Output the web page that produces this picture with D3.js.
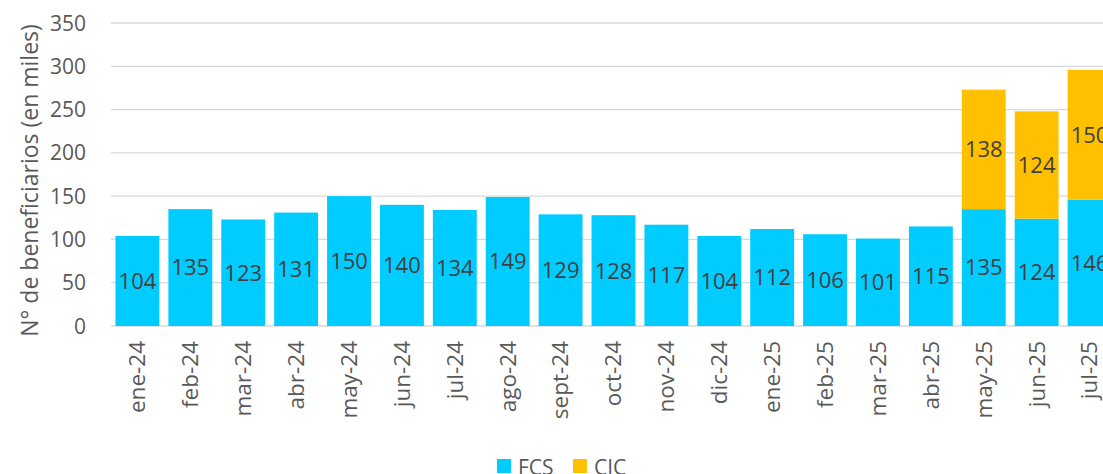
<!DOCTYPE html>
<html>
<head>
<meta charset="utf-8">
<script src="https://cdn.jsdelivr.net/npm/d3@7"></script>
<style>
  html, body { margin: 0; padding: 0; background: #fff; overflow: hidden; }
  svg { display: block; font-family: "Open Sans", "Noto Sans", sans-serif; }
</style>
</head>
<body>
<div id="chartContainer"></div>
<script>
// Beneficiarios FCS / CIC por mes (miles)
const months = ['ene-24', 'feb-24', 'mar-24', 'abr-24', 'may-24', 'jun-24', 'jul-24', 'ago-24',
  'sept-24', 'oct-24', 'nov-24', 'dic-24', 'ene-25', 'feb-25', 'mar-25', 'abr-25', 'may-25', 'jun-25', 'jul-25'];
const fcsValues = [104, 135, 123, 131, 150, 140, 134, 149, 129, 128, 117, 104, 112, 106, 101, 115, 135, 124, 146];
const cicValues = [0, 0, 0, 0, 0, 0, 0, 0, 0, 0, 0, 0, 0, 0, 0, 0, 138, 124, 150];
const yTicks = [0, 50, 100, 150, 200, 250, 300, 350];
const seriesNames = ['FCS', 'CIC'];

const colors = { FCS: '#00CCFF', CIC: '#FFC000' };
const textColor = '#595959';

const width = 1103;
const height = 474;
const plotLeft = 111;
const plotRight = 1116;
const plotTop = 23;
const plotBottom = 326;

const svg = d3.select('#chartContainer')
  .append('svg')
  .attr('width', width)
  .attr('height', height);

const x = d3.scaleBand()
  .domain(months)
  .range([plotLeft, plotRight])
  .paddingInner(0.17)
  .paddingOuter(0.085);

const y = d3.scaleLinear()
  .domain([0, 350])
  .range([plotBottom, plotTop]);

// gridlines
svg.append('g')
  .selectAll('line')
  .data(yTicks)
  .enter().append('line')
  .attr('x1', plotLeft)
  .attr('x2', plotRight)
  .attr('y1', d => y(d))
  .attr('y2', d => y(d))
  .attr('stroke', '#d9d9d9')
  .attr('stroke-width', 1.3);

// y tick labels
svg.append('g')
  .selectAll('text')
  .data(yTicks)
  .enter().append('text')
  .attr('x', 86)
  .attr('y', d => y(d))
  .attr('dy', '0.36em')
  .attr('text-anchor', 'end')
  .attr('fill', textColor)
  .style('font-size', '21px')
  .text(d => d);

// y axis title
svg.append('text')
  .attr('transform', `translate(30,${(plotTop + plotBottom) / 2 + 6}) rotate(-90)`)
  .attr('text-anchor', 'middle')
  .attr('dy', '0.35em')
  .attr('fill', textColor)
  .style('font-size', '23px')
  .text('N° de beneficiarios (en miles)');

// stacked data
const rows = months.map((m, i) => ({ month: m, FCS: fcsValues[i], CIC: cicValues[i] }));
const stack = d3.stack().keys(seriesNames)(rows);

const layers = svg.append('g')
  .selectAll('g')
  .data(stack)
  .enter().append('g')
  .attr('fill', d => colors[d.key]);

layers.selectAll('rect')
  .data(d => d.filter(s => s[1] - s[0] > 0))
  .enter().append('rect')
  .attr('x', d => x(d.data.month))
  .attr('y', d => y(d[1]))
  .attr('width', x.bandwidth())
  .attr('height', d => y(d[0]) - y(d[1]));

// data labels
layers.selectAll('text')
  .data(d => d.filter(s => s[1] - s[0] > 0))
  .enter().append('text')
  .attr('x', d => x(d.data.month) + x.bandwidth() / 2)
  .attr('y', d => (y(d[0]) + y(d[1])) / 2)
  .attr('dy', '0.36em')
  .attr('text-anchor', 'middle')
  .attr('fill', '#404040')
  .style('font-size', '22px')
  .text(d => d[1] - d[0]);

// x labels
svg.append('g')
  .selectAll('text')
  .data(months)
  .enter().append('text')
  .attr('transform', d => `translate(${x(d) + x.bandwidth() / 2},341) rotate(-90)`)
  .attr('dy', '0.35em')
  .attr('text-anchor', 'end')
  .attr('fill', textColor)
  .style('font-size', '22.5px')
  .text(d => d);

// legend
const legendX = [497, 573];
const legend = svg.append('g')
  .selectAll('g')
  .data(seriesNames)
  .enter().append('g')
  .attr('transform', (d, i) => `translate(${legendX[i]},459)`);

legend.append('rect')
  .attr('width', 14)
  .attr('height', 14)
  .attr('fill', d => colors[d]);

legend.append('text')
  .attr('x', 21)
  .attr('y', 8)
  .attr('dy', '0.36em')
  .attr('fill', textColor)
  .style('font-size', '21px')
  .text(d => d);
</script>
</body>
</html>
